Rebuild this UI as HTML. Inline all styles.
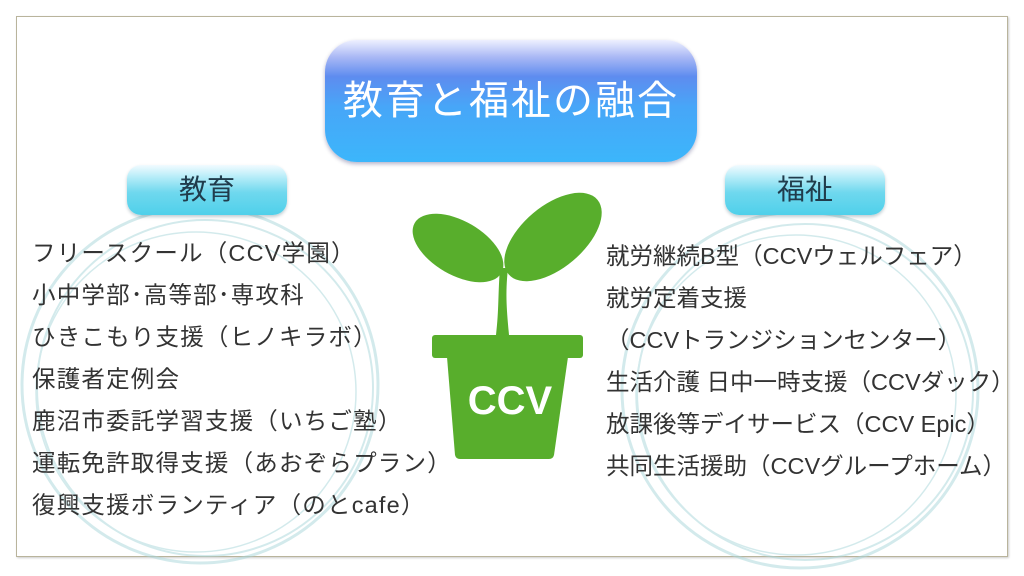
<!DOCTYPE html>
<html><head><meta charset="utf-8"><style>
html,body{margin:0;padding:0;background:#fff;}
#c{position:relative;width:1024px;height:576px;overflow:hidden;background:#fff;font-family:"Liberation Sans","Noto Sans CJK JP",sans-serif;}
.frame{position:absolute;left:16px;top:16px;width:990px;height:539px;border:1px solid #b9b49c;box-shadow:1px 1px 2px #ccc;}
.title{position:absolute;left:325px;top:40px;width:372px;height:122px;border-radius:32px;background:linear-gradient(#eef0ff 0%,#a9b8f5 14%,#5e8cef 30%,#47a6f8 55%,#3cb6fb 100%);box-shadow:0 2px 4px rgba(0,0,80,.3);color:#fff;font-size:40px;line-height:122px;text-align:center;letter-spacing:2px;}
.lab{position:absolute;top:165px;width:160px;height:50px;border-radius:14px;background:linear-gradient(#f2fbff 0%,#b4ecf8 25%,#6fd8ee 55%,#4fd0ea 100%);box-shadow:0 2px 3px rgba(0,60,80,.25);color:#203c4c;font-size:28px;line-height:50px;text-align:center;}
.list{position:absolute;color:#333;font-size:23.5px;white-space:nowrap;}
.list div{height:42px;line-height:42px;}
</style></head><body><div id="c">
<div class="frame"></div>
<svg width="1024" height="576" style="position:absolute;left:0;top:0">
<g fill="none" stroke="#a9d7da" opacity=".5">
<circle cx="200" cy="385" r="178" stroke-width="3"/>
<circle cx="205" cy="388" r="168" stroke-width="2"/>
<circle cx="196" cy="392" r="160" stroke-width="1.5"/>
<circle cx="800" cy="390" r="178" stroke-width="3"/>
<circle cx="805" cy="392" r="168" stroke-width="2"/>
<circle cx="796" cy="395" r="160" stroke-width="1.5"/>
</g>
<g fill="#58ae2c">
<ellipse cx="458" cy="248" rx="50" ry="27" transform="rotate(30 458 248)"/>
<ellipse cx="553" cy="237" rx="58" ry="31" transform="rotate(-40 553 237)"/>
<path d="M496 335 C499 310 498 292 500 268 L508 268 C505 295 507 312 509 335 Z"/>
<rect x="432" y="335" width="151" height="23" rx="3"/>
<path d="M447 357 L568 357 L554 455 Q553 459 549 459 L460 459 Q456 459 455 455 Z"/>
</g>
<text x="510" y="414" fill="#fff" font-family="Liberation Sans,sans-serif" font-weight="bold" font-size="40" text-anchor="middle">CCV</text>
</svg>
<div class="title">教育と福祉の融合</div>
<div class="lab" style="left:127px">教育</div>
<div class="lab" style="left:725px">福祉</div>
<div class="list" style="left:32px;top:232px;letter-spacing:1.2px">
<div>フリースクール（CCV学園）</div>
<div>小中学部･高等部･専攻科</div>
<div>ひきこもり支援（ヒノキラボ）</div>
<div>保護者定例会</div>
<div>鹿沼市委託学習支援（いちご塾）</div>
<div>運転免許取得支援（あおぞらプラン）</div>
<div>復興支援ボランティア（のとcafe）</div>
</div>
<div class="list" style="left:606px;top:235px">
<div>就労継続B型（CCVウェルフェア）</div>
<div>就労定着支援</div>
<div>（CCVトランジションセンター）</div>
<div>生活介護 日中一時支援（CCVダック）</div>
<div>放課後等デイサービス（CCV Epic）</div>
<div>共同生活援助（CCVグループホーム）</div>
</div>
</div></body></html>
